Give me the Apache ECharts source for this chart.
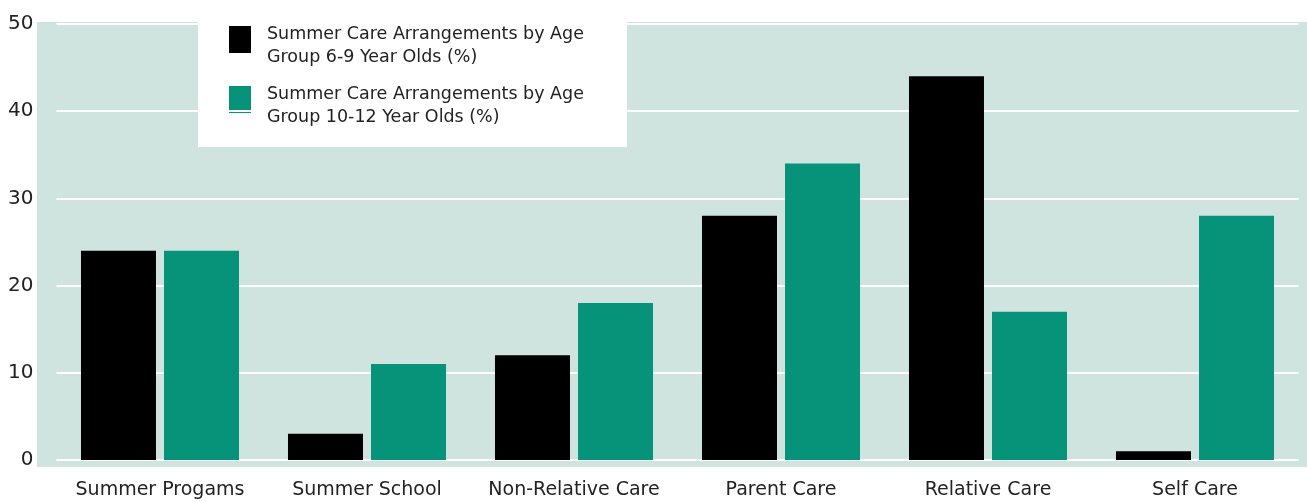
<!DOCTYPE html>
<html>
<head>
<meta charset="utf-8">
<script src="https://cdn.jsdelivr.net/npm/echarts@6/dist/echarts.min.js"></script>
<style>html,body{margin:0;padding:0;background:#fff;}#c{width:1307px;height:502px;}</style>
</head>
<body>
<div id="c"></div>
<script>
const categories = ["Summer Progams", "Summer School", "Non-Relative Care", "Parent Care", "Relative Care", "Self Care"];
const seriesNames = ["Summer Care Arrangements by Age\nGroup 6-9 Year Olds (%)", "Summer Care Arrangements by Age\nGroup 10-12 Year Olds (%)"];
const age6to9 = [24, 3, 12, 28, 44, 1];
const age10to12 = [24, 11, 18, 34, 17, 28];
const yTicks = { min: 0, max: 50, interval: 10 };

const chart = echarts.init(document.getElementById('c'), null, { renderer: 'canvas' });
const FONT = '"DejaVu Sans", sans-serif';
chart.setOption({
  animation: false,
  backgroundColor: '#ffffff',
  graphic: [
    { type: 'rect', z: -10, shape: { x: 37, y: 22, width: 1270, height: 445 }, style: { fill: '#cfe4df' } },
    { type: 'rect', z: 50, shape: { x: 198, y: 14, width: 429, height: 133 }, style: { fill: '#ffffff' } }
  ],
  grid: { left: 56.5, right: 8.5, top: 24, bottom: 42, containLabel: false },
  legend: {
    orient: 'vertical', left: 229, top: 22.5, z: 60, padding: 0,
    itemWidth: 22, itemHeight: 39, itemGap: 14,
    textStyle: { fontFamily: FONT, fontSize: 17.5, color: '#222', lineHeight: 23, padding: [0, 0, 0, 11] },
    data: [
      { name: seriesNames[0], icon: 'path://M0,0H22V27H0Z M0,38.99H0.01V39H0Z' },
      { name: seriesNames[1], icon: 'path://M0,0H22V24H0Z M0,26H22V27H0Z M0,38.99H0.01V39H0Z' }
    ]
  },
  xAxis: {
    type: 'category', data: categories,
    axisLine: { show: false }, axisTick: { show: false },
    axisLabel: { fontFamily: FONT, fontSize: 19, color: '#222', margin: 21, interval: 0 }
  },
  yAxis: {
    type: 'value', min: yTicks.min, max: yTicks.max, interval: yTicks.interval,
    axisLine: { show: false }, axisTick: { show: false },
    splitLine: { lineStyle: { color: '#ffffff', width: 2 } },
    axisLabel: { fontFamily: FONT, fontSize: 20, color: '#222', margin: 23 }
  },
  series: [
    { name: seriesNames[0], type: 'bar', data: age6to9, barWidth: 75, barGap: '10.7%', itemStyle: { color: '#000000' } },
    { name: seriesNames[1], type: 'bar', data: age10to12, barWidth: 75, itemStyle: { color: '#079379' } }
  ]
});
</script>
</body>
</html>
